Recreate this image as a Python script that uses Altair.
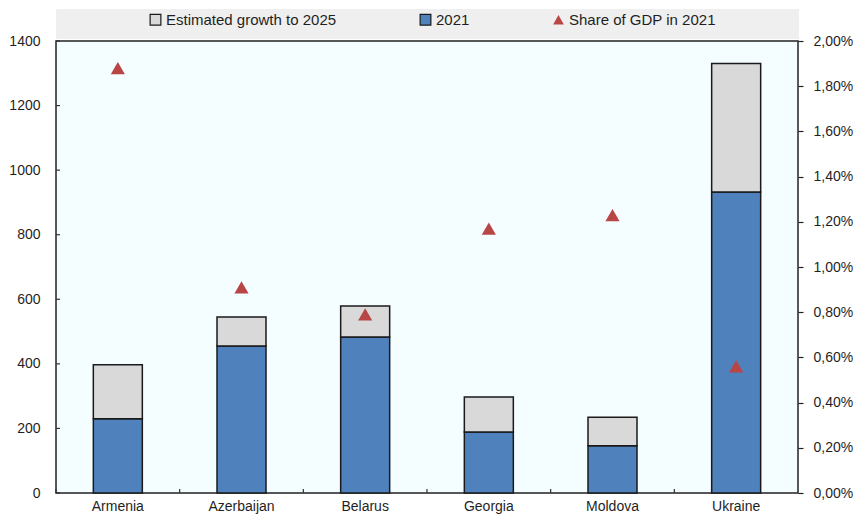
import altair as alt
import pandas as pd

countries = ["Armenia", "Azerbaijan", "Belarus", "Georgia", "Moldova", "Ukraine"]
value_2021 = [230, 455, 483, 189, 146, 932]
growth_2025 = [167, 90, 96, 108, 89, 398]
share_gdp_2021 = [0.0188, 0.0091, 0.0079, 0.0117, 0.0123, 0.0056]

series_names = ["Estimated growth to 2025", "2021", "Share of GDP in 2021"]
series_colors = ["#d9d9d9", "#4f81bd", "#b94646"]
series_shapes = ["square", "square", "triangle-up"]
series_strokes = ["#1a1a1a", "#1a1a1a", "transparent"]

left_ticks = [0, 200, 400, 600, 800, 1000, 1200, 1400]
right_ticks = [0.0, 0.002, 0.004, 0.006, 0.008, 0.010, 0.012, 0.014, 0.016, 0.018, 0.020]

bars_df = pd.DataFrame({
    "country": countries * 2,
    "series": ["2021"] * len(countries) + ["Estimated growth to 2025"] * len(countries),
    "value": value_2021 + growth_2025,
    "ord": [0] * len(countries) + [1] * len(countries),
})
points_df = pd.DataFrame({
    "country": countries,
    "series": ["Share of GDP in 2021"] * len(countries),
    "share": share_gdp_2021,
})
yticks_df = pd.DataFrame({"v": left_ticks})
xticks_df = pd.DataFrame({"country": countries})

FONT = "Liberation Sans"
TXT = "#1f1f1f"
W, H = 742, 452
AX_FS = 14

legend = alt.Legend(
    title=None, orient="none", legendX=92, legendY=3, direction="horizontal",
    columnPadding=80, symbolSize=115, labelFontSize=15, labelColor=TXT,
    labelFont=FONT, labelLimit=400, labelOffset=3, symbolStrokeWidth=1.2,
    padding=0,
)

x_scale = alt.Scale(paddingInner=0, paddingOuter=0)
x_axis = alt.Axis(
    ticks=False, domain=False, labelAngle=0, labelPadding=6,
    grid=False, labelFontSize=AX_FS, labelColor=TXT, labelFont=FONT,
)
x_enc = alt.X("country:N", sort=countries, title=None, scale=x_scale, axis=x_axis)

color_enc = alt.Color(
    "series:N", title=None,
    scale=alt.Scale(domain=series_names, range=series_colors), legend=legend,
)

bars = alt.Chart(bars_df).mark_bar(size=49, stroke="#1a1a1a", strokeWidth=1.5).encode(
    x=x_enc,
    y=alt.Y(
        "value:Q", stack="zero", title=None,
        scale=alt.Scale(domain=[0, 1400], nice=False),
        axis=alt.Axis(
            values=left_ticks, format="d", ticks=False, domain=False, grid=False,
            labelPadding=16, labelFontSize=AX_FS, labelColor=TXT, labelFont=FONT,
        ),
    ),
    color=color_enc,
    order=alt.Order("ord:Q", sort="ascending"),
)

# inward tick marks on the left axis
yticks = alt.Chart(yticks_df).mark_rule(color="#333333", strokeWidth=1.2).encode(
    y=alt.Y("v:Q", scale=alt.Scale(domain=[0, 1400], nice=False), axis=None),
    x=alt.value(0), x2=alt.value(4),
)

# inward tick marks at category boundaries on the bottom axis
xticks = alt.Chart(xticks_df).mark_rule(color="#333333", strokeWidth=1.2).encode(
    x=alt.X("country:N", sort=countries, title=None, bandPosition=0,
            scale=x_scale, axis=x_axis),
    y=alt.value(H - 4), y2=alt.value(H),
)

points = alt.Chart(points_df).mark_point(filled=True, size=200, opacity=1).encode(
    x=x_enc,
    y=alt.Y(
        "share:Q", title=None,
        scale=alt.Scale(domain=[0, 0.02], nice=False),
        axis=alt.Axis(
            orient="right", values=right_ticks,
            labelExpr="replace(format(datum.value, '.2%'), '.', ',')",
            tickSize=5, tickColor="#222222", tickWidth=1.2, domain=False,
            grid=False, labelPadding=10, labelFontSize=AX_FS, labelColor=TXT,
            labelFont=FONT,
        ),
    ),
    color=color_enc,
    shape=alt.Shape(
        "series:N", title=None,
        scale=alt.Scale(domain=series_names, range=series_shapes), legend=legend,
    ),
    stroke=alt.Stroke(
        "series:N", title=None,
        scale=alt.Scale(domain=series_names, range=series_strokes), legend=legend,
    ),
)

main = alt.layer(bars, yticks, xticks, points).resolve_scale(y="independent").properties(
    width=W, height=H,
    view=alt.ViewBackground(fill="#f4fdff", stroke="#222222", strokeWidth=1.5),
)

top = alt.Chart(pd.DataFrame({"k": [0]})).mark_point(opacity=0).encode(
    x=alt.value(100), y=alt.value(12)
).properties(
    width=W, height=29,
    view=alt.ViewBackground(fill="#efefef", stroke="#efefef"),
)

chart = alt.vconcat(top, main, spacing=3, bounds="flush").properties(
    padding=0
).configure(font=FONT)

chart.save("out.html", embed_options={"renderer": "svg", "actions": False})
